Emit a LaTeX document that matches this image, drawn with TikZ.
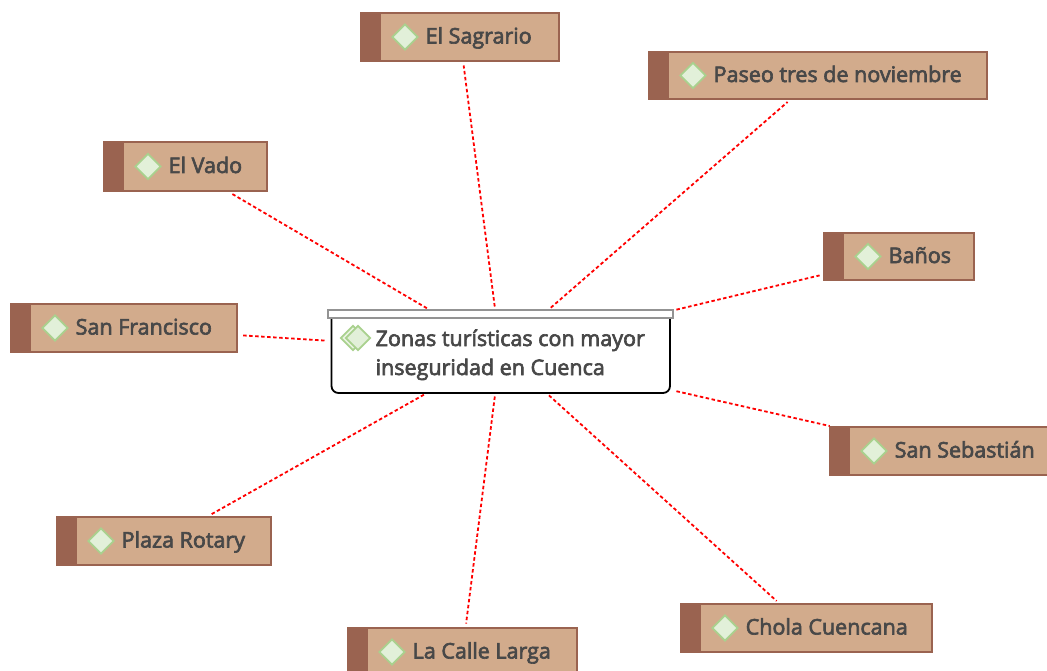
\documentclass[tikz,border=0pt]{standalone}
\usepackage{fontspec}
\setmainfont{Open Sans}[FakeBold=3]
\usetikzlibrary{shapes.geometric}
\definecolor{tfill}{HTML}{D2AB8C}
\definecolor{tedge}{HTML}{9A6350}
\definecolor{dfill}{HTML}{E2F0D9}
\definecolor{dedge}{HTML}{A9D18E}
\definecolor{ink}{HTML}{484848}
\tikzset{
  x=1pt,y=-1pt,
  topicbox/.style={draw=tedge,fill=tfill,line width=1.5pt,inner sep=0pt,outer sep=0pt},
  gem/.style={diamond,aspect=1,draw=dedge,fill=dfill,line width=1.9pt,minimum size=26pt,inner sep=0pt},
  gemsmall/.style={gem,minimum size=25pt},
  label/.style={text=ink,font=\fontsize{21.5pt}{29pt}\selectfont,inner sep=0pt,anchor=base west,align=left},
  link/.style={draw=red,line width=1.8pt,dash pattern=on 3.5pt off 2.5pt,shorten >=4.5pt,shorten <=3.5pt},
}
% name, left, top, right, bottom, text
\newcommand{\topicnode}[6]{%
  \node[topicbox,minimum width=#4pt-#2pt,minimum height=#5pt-#3pt] (#1) at ({(#2+#4)/2},{(#3+#5)/2}) {};
  \fill[tedge] (#1.north west) rectangle ([xshift=19.5pt]#1.south west);
  \node[gem] (#1gem) at ([xshift=44pt]#1.west) {};
  \node[label] (#1txt) at ([xshift=64.5pt,yshift=-6.5pt]#1.west) {#6};
}
\begin{document}
\begin{tikzpicture}
\useasboundingbox (0,0) rectangle (1047,671);
\clip (0,0) rectangle (1047,671);
\node[minimum width=345pt,minimum height=83pt,inner sep=0pt,outer sep=0pt] (root) at (500.5,351.5) {};
\topicnode{sagrario}{361}{13}{559}{61}{El Sagrario}
\topicnode{paseo}{649}{52}{987}{99}{Paseo tres de noviembre}
\topicnode{vado}{104}{142}{267}{191}{El Vado}
\topicnode{banos}{824}{233}{974}{280}{Baños}
\topicnode{francisco}{11}{304}{237}{352}{San Francisco}
\topicnode{sebastian}{830}{427}{1050}{475}{San Sebastián}
\topicnode{rotary}{57}{517}{271}{565}{Plaza Rotary}
\topicnode{larga}{348}{628}{577}{676}{La Calle Larga}
\topicnode{chola}{681}{604}{932}{652}{Chola Cuencana}
\foreach \t in {sagrario,paseo,vado,banos,francisco,sebastian,rotary,larga,chola}
  \draw[link] (root) -- (\t);
% root
\draw[fill=white,draw=black,line width=1.8pt,rounded corners=7pt] ([xshift=3.5pt]root.north west) -- ([xshift=3.5pt]root.south west) -- ([xshift=-3pt]root.south east) -- ([xshift=-3pt]root.north east);
\draw[draw=gray!85,fill=white,line width=1.8pt] (root.north west) rectangle ([yshift=-8pt]root.north east);
\node[gemsmall,fill=dfill!70] (rootgemb) at (353,338) {};
\node[gemsmall] (rootgem) at (358,338) {};
\node[label] (roottxt) at (375.5,375) {Zonas turísticas con mayor\\inseguridad en Cuenca};
\end{tikzpicture}
\end{document}
